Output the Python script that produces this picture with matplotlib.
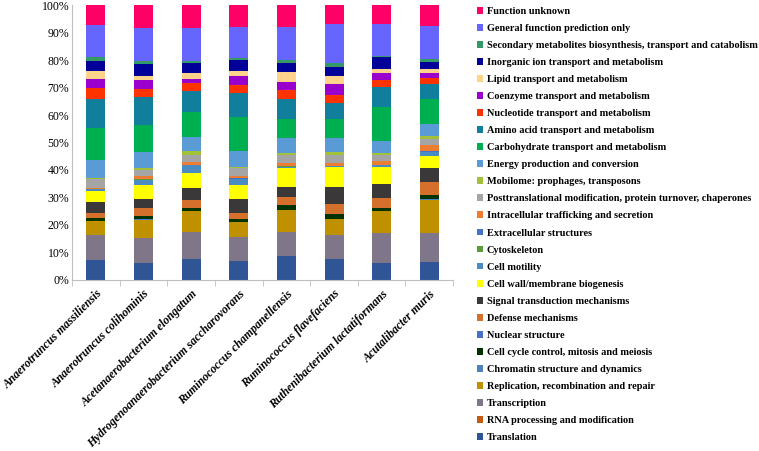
import numpy as np
import matplotlib.pyplot as plt
from matplotlib.patches import Patch

species = ['Anaerotruncus massiliensis', 'Anaerotruncus colihominis', 'Acetanaerobacterium elongatum',
           'Hydrogenoanaerobacterium saccharovorans', 'Ruminococcus champanellensis',
           'Ruminococcus flavefaciens', 'Ruthenibacterium lactatiformans', 'Acutalibacter muris']

# categories bottom -> top of the stack
categories = ['Translation', 'RNA processing and modification', 'Transcription',
              'Replication, recombination and repair', 'Chromatin structure and dynamics',
              'Cell cycle control, mitosis and meiosis', 'Nuclear structure', 'Defense mechanisms',
              'Signal transduction mechanisms', 'Cell wall/membrane biogenesis', 'Cell motility',
              'Cytoskeleton', 'Extracellular structures', 'Intracellular trafficking and secretion',
              'Posttranslational modification, protein turnover, chaperones',
              'Mobilome: prophages, transposons', 'Energy production and conversion',
              'Carbohydrate transport and metabolism', 'Amino acid transport and metabolism',
              'Nucleotide transport and metabolism', 'Coenzyme transport and metabolism',
              'Lipid transport and metabolism', 'Inorganic ion transport and metabolism',
              'Secondary metabolites biosynthesis, transport and catabolism',
              'General function prediction only', 'Function unknown']

colors = ['#2F5597', '#C55A11', '#7F7689', '#BF9000', '#4F81BD', '#003300', '#4472C4', '#D4702C',
          '#3A3838', '#FFFF00', '#4A8BC2', '#5B9B3A', '#4472C4', '#ED7D31', '#A5A5A5', '#A2C03A',
          '#5B9BD5', '#00B050', '#117E9B', '#FF3300', '#9900CC', '#FFD38C', '#000099', '#339966',
          '#6666FF', '#FF0066']

# percent per species, same order as categories
massiliensis   = [7.1, 0.1, 9.1, 5.1, 0.1, 1.0, 0.0, 2.1, 4.0, 4.0, 0.5, 0.1, 0.1, 0.4, 3.3, 0.4, 6.4, 11.9, 10.5, 3.9, 3.5, 2.8, 3.8, 1.3, 11.8, 7.2]
colihominis    = [6.1, 0.1, 9.2, 6.6, 0.1, 1.2, 0.0, 2.9, 3.4, 5.1, 1.9, 0.1, 0.1, 1.0, 2.2, 0.7, 6.1, 9.9, 10.0, 3.0, 3.3, 1.7, 4.4, 1.1, 11.9, 8.3]
elongatum      = [7.5, 0.1, 10.0, 7.4, 0.1, 1.1, 0.0, 2.9, 4.5, 5.4, 2.8, 0.1, 0.1, 0.9, 2.9, 1.3, 5.1, 9.0, 8.0, 2.7, 1.6, 2.2, 3.5, 0.9, 12.0, 8.3]
saccharovorans = [6.7, 0.1, 8.8, 5.4, 0.1, 1.2, 0.0, 2.3, 5.0, 5.2, 2.2, 0.1, 0.1, 1.0, 2.9, 0.3, 5.8, 12.5, 8.8, 3.2, 3.2, 1.7, 4.3, 0.7, 11.4, 7.8]
champanellensis = [8.6, 0.1, 8.9, 7.7, 0.1, 1.8, 0.0, 3.2, 3.5, 6.9, 0.5, 0.1, 0.1, 1.1, 2.9, 0.9, 5.4, 6.8, 7.3, 3.3, 3.0, 3.6, 3.4, 1.2, 11.9, 8.0]
flavefaciens   = [7.4, 0.1, 8.8, 6.0, 0.1, 1.6, 0.0, 3.9, 6.1, 7.2, 0.5, 0.1, 0.1, 1.0, 2.9, 0.9, 5.2, 7.1, 6.0, 2.8, 4.1, 3.0, 3.2, 1.5, 14.4, 6.7]
lactatiformans = [6.0, 0.1, 11.1, 8.0, 0.1, 1.0, 0.0, 3.8, 5.1, 6.2, 0.5, 0.1, 0.1, 1.5, 2.2, 0.7, 4.5, 12.2, 7.4, 2.7, 2.6, 1.5, 4.1, 0.6, 11.7, 6.8]
muris          = [6.3, 0.1, 10.7, 12.2, 0.1, 1.5, 0.0, 5.0, 4.9, 4.6, 1.5, 0.1, 0.1, 2.2, 2.3, 1.0, 4.6, 9.0, 5.6, 2.3, 1.7, 1.6, 2.6, 0.9, 12.3, 7.4]

data = np.array([massiliensis, colihominis, elongatum, saccharovorans,
                 champanellensis, flavefaciens, lactatiformans, muris])
data = data / data.sum(axis=1, keepdims=True) * 100  # 100% stacked

fig = plt.figure(figsize=(7.59, 4.51), dpi=100)
ax = fig.add_axes([0.095, 0.380, 0.502, 0.608])

x = np.arange(len(species))
bottom = np.zeros(len(species))
for j, cat in enumerate(categories):
    ax.bar(x, data[:, j], 0.4, bottom=bottom, color=colors[j], linewidth=0)
    bottom += data[:, j]

ax.set_xlim(-0.5, len(species) - 0.5)
ax.set_ylim(0, 100)
ax.set_yticks(np.arange(0, 101, 10))
ax.set_yticklabels([f'{v}%' for v in range(0, 101, 10)], family='Liberation Serif', fontsize=8.5)
ax.tick_params(axis='y', length=0, pad=2)

ax.set_xticks(x)
ax.set_xticklabels(species, rotation=45, ha='right', rotation_mode='anchor',
                   family='Liberation Serif', fontweight='bold', fontstyle='italic', fontsize=8.5)
ax.tick_params(axis='x', which='major', length=0, pad=6)
ax.set_xticks(np.arange(-0.5, len(species), 1), minor=True)
ax.tick_params(axis='x', which='minor', length=4, color='#BFBFBF')

for s in ['top', 'right']:
    ax.spines[s].set_visible(False)
for s in ['left', 'bottom']:
    ax.spines[s].set_color('#BFBFBF')
    ax.spines[s].set_linewidth(0.8)

handles = [Patch(facecolor=colors[j], edgecolor='none') for j in range(len(categories))][::-1]
fig.legend(handles, categories[::-1], loc='upper left', bbox_to_anchor=(0.628, 0.985),
           frameon=False, handlelength=0.65, handleheight=0.65, handletextpad=0.35,
           labelspacing=0.78, borderaxespad=0, borderpad=0,
           prop={'family': 'Liberation Serif', 'weight': 'bold', 'size': 7.4})

fig.savefig('out.png', dpi=100)
